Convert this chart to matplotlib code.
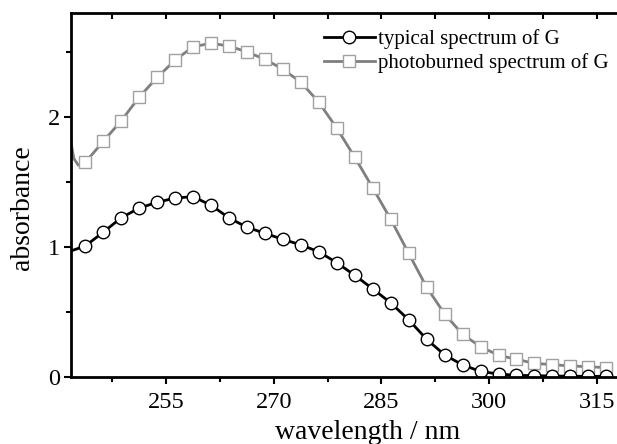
import matplotlib
matplotlib.use("Agg")
import matplotlib.pyplot as plt
from matplotlib.ticker import MultipleLocator

# wavelength (nm) of the plotted points; first entries are the curve start
# at the left edge, the rest are the marked points (every 2.5 nm)
lead_black_x = [241.8]
lead_black_y = [0.97]
lead_gray_x = [241.8, 242.2, 242.8]
lead_gray_y = [1.80, 1.68, 1.63]

wavelength = [243.8, 246.3, 248.8, 251.3, 253.8, 256.3, 258.8, 261.3, 263.8, 266.3,
              268.8, 271.3, 273.8, 276.3, 278.8, 281.3, 283.8, 286.3, 288.8, 291.3,
              293.8, 296.3, 298.8, 301.3, 303.8, 306.3, 308.8, 311.3, 313.8, 316.3]

typical = [1.008, 1.115, 1.225, 1.300, 1.344, 1.377, 1.387, 1.321, 1.223, 1.152,
           1.105, 1.059, 1.016, 0.963, 0.879, 0.782, 0.678, 0.570, 0.440, 0.290,
           0.170, 0.093, 0.043, 0.023, 0.013, 0.010, 0.008, 0.006, 0.005, 0.005]

photoburned = [1.652, 1.813, 1.972, 2.154, 2.305, 2.438, 2.541, 2.567, 2.546, 2.500,
               2.444, 2.367, 2.267, 2.113, 1.913, 1.690, 1.454, 1.213, 0.951, 0.690,
               0.485, 0.328, 0.233, 0.167, 0.136, 0.105, 0.095, 0.085, 0.079, 0.072]

plt.rcParams["font.family"] = ["Liberation Serif", "DejaVu Serif"]

fig = plt.figure(figsize=(6.17, 4.44), dpi=100)
ax = fig.add_axes([0.1151, 0.1509, 0.885, 0.8198])

GRAY = "#7f7f7f"

ax.plot(lead_gray_x + wavelength, lead_gray_y + photoburned, color=GRAY, linewidth=2.0,
        marker="s", markersize=8.5, markerfacecolor="white", markeredgecolor="#a0a0a0",
        markeredgewidth=1.0, markevery=slice(len(lead_gray_x), None),
        label="photoburned spectrum of G", zorder=2)
ax.plot(lead_black_x + wavelength, lead_black_y + typical, color="black", linewidth=2.0,
        marker="o", markersize=9, markerfacecolor="white", markeredgecolor="black",
        markeredgewidth=1.0, markevery=slice(len(lead_black_x), None),
        label="typical spectrum of G", zorder=3)

ax.set_xlim(241.8, 317.8)
ax.set_ylim(0, 2.8)
ax.xaxis.set_major_locator(MultipleLocator(15))
ax.xaxis.set_minor_locator(MultipleLocator(7.5))
ax.yaxis.set_major_locator(MultipleLocator(1))
ax.yaxis.set_minor_locator(MultipleLocator(0.5))

for side in ("left", "bottom", "top"):
    ax.spines[side].set_linewidth(2)
    ax.spines[side].set_zorder(5)
ax.spines["right"].set_visible(False)

ax.tick_params(which="both", direction="out", width=1.5, labelsize=17.5)
ax.tick_params(axis="x", pad=6)
ax.tick_params(axis="y", pad=3)
ax.tick_params(which="major", length=5)
ax.tick_params(which="minor", length=3.5)
ax.xaxis.set_tick_params(which="both", top=True)
for t in ax.xaxis.get_major_ticks() + ax.xaxis.get_minor_ticks():
    t.tick2line.set_marker(3)  # inward tick on the top spine
    t.tick2line.set_markersize(4)

ax.set_xlabel("wavelength / nm", fontsize=20, x=0.544, labelpad=5)
ax.set_ylabel("absorbance", fontsize=20, y=0.464, labelpad=9)

handles, labels = ax.get_legend_handles_labels()
ax.legend(handles[::-1], labels[::-1], loc="upper left", bbox_to_anchor=(0.463, 0.955),
          frameon=False, fontsize=15, numpoints=1, handlelength=2.45,
          handletextpad=0.15, borderpad=0, borderaxespad=0, labelspacing=0.2)

fig.savefig("out.png", dpi=100)
